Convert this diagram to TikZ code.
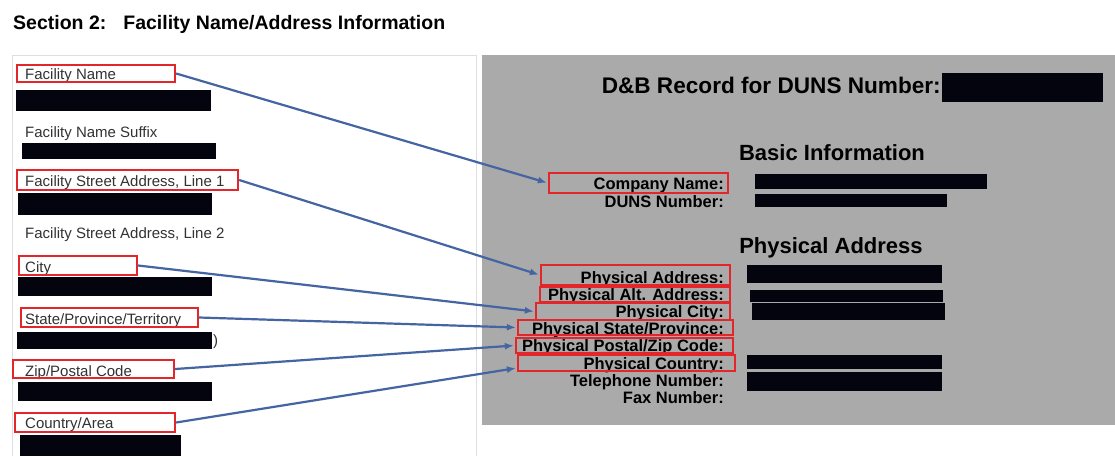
\documentclass[tikz,border=0pt]{standalone}
\usepackage{fontspec}
\setmainfont{Liberation Sans}
\usetikzlibrary{arrows.meta, fit}

\definecolor{markred}{RGB}{226,38,42}
\definecolor{linkblue}{RGB}{68,100,162}
\definecolor{panelgray}{RGB}{170,170,170}
\definecolor{edgegray}{RGB}{222,222,222}
\definecolor{labelgray}{RGB}{50,50,50}
\definecolor{redactblack}{RGB}{4,4,14}

\begin{document}
\begin{tikzpicture}[x=1pt, y=-1pt, >=Latex,
    title/.style={anchor=base west, inner sep=0pt, font=\fontsize{19.5}{22}\selectfont\bfseries},
    lefttext/.style={anchor=base west, inner sep=0pt, text=labelgray, font=\fontsize{15}{18}\selectfont},
    fieldtext/.style={anchor=base east, inner sep=0pt, font=\fontsize{16.5}{18}\selectfont\bfseries},
    headtext/.style={anchor=base, inner sep=0pt, font=\fontsize{22}{24}\selectfont\bfseries},
    markbox/.style={draw=markred, line width=2.3pt, inner sep=0pt},
    link/.style={draw=linkblue, line width=2.2pt, -{Latex[length=9pt,width=7pt]}, shorten >=1pt}]

    \useasboundingbox (0,0) rectangle (1115,456);
    \fill[white] (0,0) rectangle (1115,456);

    % Title
    \node[title] (title) at (13,29) {Section 2:\hspace{17pt}Facility Name/Address Information};

    % Panels
    \draw[edgegray, line width=1pt] (12,456) |- (476,55) -- (476,456);
    \fill[panelgray] (482,55) rectangle (1115,425);

    % Left labels
    \node[lefttext] (fname) at (25,79) {Facility Name};
    \node[lefttext] (fsuffix) at (25,137) {Facility Name Suffix};
    \node[lefttext] (fstreet1) at (25,186) {Facility Street Address, Line 1};
    \node[lefttext] (fstreet2) at (25,238) {Facility Street Address, Line 2};
    \node[lefttext] (fcity) at (25,272) {City};
    \node[lefttext] (fstate) at (25,324) {State/Province/Territory};
    \node[lefttext] (fparen) at (213,345) {)};
    \node[lefttext] (fzip) at (25,376) {Zip/Postal Code};
    \node[lefttext] (fcountry) at (25,428) {Country/Area};

    % Left redactions
    \fill[redactblack] (16,90) rectangle (211,111);
    \fill[redactblack] (22,143) rectangle (216,159);
    \fill[redactblack] (18,193) rectangle (212,215);
    \fill[redactblack] (18,277) rectangle (212,296);
    \fill[redactblack] (17,332) rectangle (212,349);
    \fill[redactblack] (18,382) rectangle (212,401);
    \fill[redactblack] (20,435) rectangle (181,456);

    % Left marks
    \node[markbox, fit={(17,65) (175,82)}] (fnamebox) {};
    \node[markbox, fit={(17,170) (238,190)}] (fstreet1box) {};
    \node[markbox, fit={(19,256) (137,275)}] (fcitybox) {};
    \node[markbox, fit={(21,308) (198,327)}] (fstatebox) {};
    \node[markbox, fit={(13,360) (174,378)}] (fzipbox) {};
    \node[markbox, fit={(15,413) (175,432)}] (fcountrybox) {};

    % Right headings
    \node[headtext, anchor=base east, font=\fontsize{22.6}{24}\selectfont\bfseries] (dbhead) at (941,93) {D\&B Record for DUNS Number:};
    \node[headtext] (basichead) at (832,160) {Basic Information};
    \node[headtext] (physhead) at (831,253) {Physical Address};

    % Right fields
    \node[fieldtext] (cname) at (724,189) {Company Name:};
    \node[fieldtext] (duns) at (724,207) {DUNS Number:};
    \node[fieldtext] (paddr) at (724,283) {Physical Address:};
    \node[fieldtext] (palt) at (724,300) {Physical Alt. Address:};
    \node[fieldtext] (pcity) at (724,317) {Physical City:};
    \node[fieldtext] (pstate) at (724,334) {Physical State/Province:};
    \node[fieldtext] (ppostal) at (724,351) {Physical Postal/Zip Code:};
    \node[fieldtext] (pcountry) at (724,369) {Physical Country:};
    \node[fieldtext] (phone) at (724,386) {Telephone Number:};
    \node[fieldtext] (fax) at (724,403) {Fax Number:};

    % Right redactions
    \fill[redactblack] (942,73) rectangle (1103,102);
    \fill[redactblack] (755,174) rectangle (987,189);
    \fill[redactblack] (755,194) rectangle (947,207);
    \fill[redactblack] (747,265) rectangle (942,283);
    \fill[redactblack] (750,290) rectangle (943,302);
    \fill[redactblack] (752,303) rectangle (945,320);
    \fill[redactblack] (747,355) rectangle (942,369);
    \fill[redactblack] (747,372) rectangle (942,391);

    % Right marks
    \node[markbox, fit={(549,173) (728,193)}] (cnamebox) {};
    \node[markbox, fit={(541,265) (730,285)}] (paddrbox) {};
    \node[markbox, fit={(540,287) (730,302)}] (paltbox) {};
    \node[markbox, fit={(536,303) (730,320)}] (pcitybox) {};
    \node[markbox, fit={(518,320) (733,335)}] (pstatebox) {};
    \node[markbox, fit={(516,338) (733,353)}] (ppostalbox) {};
    \node[markbox, fit={(518,355) (735,371)}] (pcountrybox) {};

    % Links
    \draw[link] (fnamebox.east) -- (cnamebox.west);
    \draw[link] (fstreet1box.east) -- (paddrbox.west);
    \draw[link] (fcitybox.east) -- (pcitybox.west);
    \draw[link] (fstatebox.east) -- (pstatebox.west);
    \draw[link] (fzipbox.east) -- (ppostalbox.west);
    \draw[link] (fcountrybox.east) -- ([yshift=-5pt]pcountrybox.west);

\end{tikzpicture}
\end{document}
